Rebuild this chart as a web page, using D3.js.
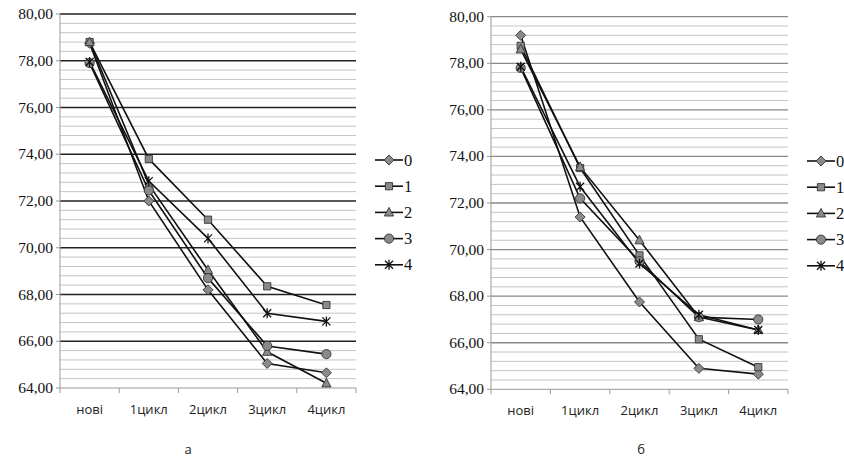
<!DOCTYPE html>
<html lang="uk">
<head>
<meta charset="UTF-8">
<title>Два графіки</title>
<script src="https://d3js.org/d3.v7.min.js"></script>
<style>
  body { margin: 0; background: #fff; }
  text.serif { font-family: "Liberation Serif", "Times New Roman", Tinos, serif; }
</style>
</head>
<body>
<script>
// categories and tick labels
var categories = ["нові", "1цикл", "2цикл", "3цикл", "4цикл"];
var seriesNames = ["0", "1", "2", "3", "4"];
var yTicks = [64, 66, 68, 70, 72, 74, 76, 78, 80];

// chart "а"
var a0 = [78.75, 72.0, 68.2, 65.05, 64.65];
var a1 = [78.8, 73.8, 71.2, 68.35, 67.55];
var a2 = [78.8, 72.7, 69.05, 65.55, 64.2];
var a3 = [77.9, 72.45, 68.7, 65.8, 65.45];
var a4 = [77.95, 72.85, 70.4, 67.2, 66.85];

// chart "б"
var b0 = [79.2, 71.4, 67.75, 64.9, 64.65];
var b1 = [78.75, 73.5, 69.75, 66.15, 64.95];
var b2 = [78.6, 73.55, 70.4, 67.1, 66.55];
var b3 = [77.8, 72.2, 69.5, 67.1, 67.0];
var b4 = [77.85, 72.7, 69.4, 67.2, 66.55];

var shapes = ["diamond", "square", "triangle", "circle", "star"];

var svg = d3.select("body").append("svg")
    .attr("width", 844).attr("height", 459);

function marker(g, shape, x, y) {
  var d;
  if (shape == "star") {
    g.append("path")
      .attr("d", "M" + (x-4) + "," + (y-4) + "L" + (x+4) + "," + (y+4) +
                 "M" + (x+4) + "," + (y-4) + "L" + (x-4) + "," + (y+4) +
                 "M" + x + "," + (y-5) + "L" + x + "," + (y+5))
      .attr("stroke", "#111").attr("stroke-width", 1.3).attr("fill", "none");
    return;
  }
  if (shape == "diamond") {
    d = "M" + x + "," + (y-5) + "L" + (x+5) + "," + y + "L" + x + "," + (y+5) + "L" + (x-5) + "," + y + "Z";
  } else if (shape == "square") {
    d = "M" + (x-3.6) + "," + (y-3.6) + "h7.2v7.2h-7.2Z";
  } else if (shape == "triangle") {
    d = "M" + x + "," + (y-5) + "L" + (x+4.6) + "," + (y+3.6) + "L" + (x-4.6) + "," + (y+3.6) + "Z";
  } else {
    d = d3.arc().innerRadius(0).outerRadius(4.6).startAngle(0).endAngle(2 * Math.PI)();
    g.append("path").attr("d", d).attr("transform", "translate(" + x + "," + y + ")")
      .attr("fill", "#8a8a8a").attr("stroke", "#333").attr("stroke-width", 0.9);
    return;
  }
  g.append("path").attr("d", d)
    .attr("fill", "#8a8a8a").attr("stroke", "#333").attr("stroke-width", 0.9);
}

function drawChart(cfg) {
  var x = d3.scaleBand().domain(categories).range([cfg.x0, cfg.x1]);
  var y = d3.scaleLinear().domain([64, 80]).range([cfg.yb, cfg.yt]);
  var g = svg.append("g");

  // minor grid every 0.4
  d3.range(64.4, 80, 0.4).forEach(function (v) {
    if (Math.abs(v - Math.round(v / 2) * 2) < 0.01) return;
    g.append("line").attr("x1", cfg.x0).attr("x2", cfg.x1)
      .attr("y1", y(v)).attr("y2", y(v))
      .attr("stroke", "#c4c4c4").attr("stroke-width", 1);
  });
  // major grid
  g.selectAll(".major").data(yTicks.slice(1)).enter().append("line")
    .attr("x1", cfg.x0).attr("x2", cfg.x1)
    .attr("y1", function (d) { return y(d); }).attr("y2", function (d) { return y(d); })
    .attr("stroke", cfg.major).attr("stroke-width", 1.3);

  // y axis
  g.append("line").attr("x1", cfg.x0).attr("x2", cfg.x0)
    .attr("y1", y(64)).attr("y2", y(80)).attr("stroke", "#999");
  g.selectAll(".ytick").data(yTicks).enter().append("text")
    .attr("class", "serif")
    .attr("x", cfg.x0 - 7).attr("y", function (d) { return y(d) + 5; })
    .attr("text-anchor", "end")
    .attr("font-family", "Liberation Serif").attr("font-size", 15.5).attr("fill", "#111")
    .text(function (d) { return d.toFixed(2).replace(".", ","); });
  g.selectAll(".ymark").data(yTicks).enter().append("line")
    .attr("x1", cfg.x0 - 4).attr("x2", cfg.x0)
    .attr("y1", function (d) { return y(d); }).attr("y2", function (d) { return y(d); })
    .attr("stroke", "#999");

  // x axis
  g.append("line").attr("x1", cfg.x0).attr("x2", cfg.x1)
    .attr("y1", y(64)).attr("y2", y(64)).attr("stroke", "#999");
  var bounds = categories.map(function (c) { return x(c); }).concat([cfg.x1]);
  bounds.forEach(function (b) {
    g.append("line").attr("x1", b).attr("x2", b)
      .attr("y1", y(64)).attr("y2", y(64) + 5).attr("stroke", "#999");
  });
  g.selectAll(".xtick").data(categories).enter().append("text")
    .attr("x", function (d) { return x(d) + x.bandwidth() / 2; })
    .attr("y", y(64) + 26)
    .attr("text-anchor", "middle")
    .attr("font-family", "Open Sans").attr("font-size", 13).attr("fill", "#222")
    .text(function (d) { return d; });

  var line = d3.line()
    .x(function (d, i) { return x(categories[i]) + x.bandwidth() / 2; })
    .y(function (d) { return y(d); });

  cfg.data.forEach(function (s) {
    g.append("path").datum(s).attr("d", line)
      .attr("fill", "none").attr("stroke", "#111").attr("stroke-width", 1.6);
  });
  cfg.data.forEach(function (s, k) {
    s.forEach(function (v, i) {
      marker(g, shapes[k], x(categories[i]) + x.bandwidth() / 2, y(v));
    });
  });

  // legend
  seriesNames.forEach(function (n, k) {
    var ly = cfg.legY + k * 26.2;
    g.append("line").attr("x1", cfg.legX).attr("x2", cfg.legX + 28)
      .attr("y1", ly).attr("y2", ly).attr("stroke", "#111").attr("stroke-width", 1.6);
    marker(g, shapes[k], cfg.legX + 14, ly);
    g.append("text")
      .attr("class", "serif")
      .attr("x", cfg.legX + 29).attr("y", ly + 5.5)
      .attr("font-family", "Liberation Serif").attr("font-size", 16.5).attr("fill", "#111")
      .text(n);
  });

  g.append("text")
    .attr("x", cfg.capX).attr("y", 454).attr("text-anchor", "middle")
    .attr("font-family", "Open Sans").attr("font-size", 13).attr("fill", "#222")
    .text(cfg.cap);
}

drawChart({x0: 60, x1: 356, yt: 14, yb: 388, major: "#222",
  data: [a0, a1, a2, a3, a4], legX: 375, legY: 160, capX: 188, cap: "а"});
drawChart({x0: 491, x1: 788, yt: 16.7, yb: 389.3, major: "#8a8a8a",
  data: [b0, b1, b2, b3, b4], legX: 807, legY: 161, capX: 641, cap: "б"});
</script>
</body>
</html>
